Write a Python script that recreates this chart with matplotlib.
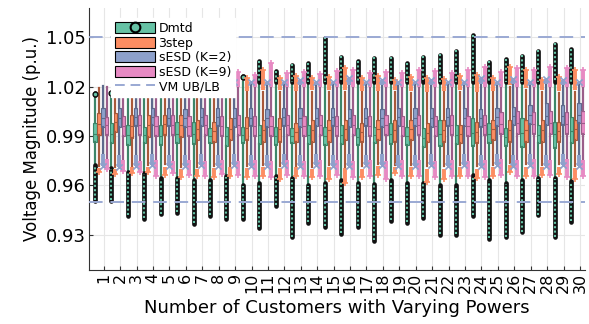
import numpy as np
import matplotlib
matplotlib.use("Agg")
import matplotlib.pyplot as plt
from matplotlib.patches import Patch
from matplotlib.lines import Line2D

# ── data ──────────────────────────────────────────────────────────────────
groups = np.arange(1, 31)
series = ["Dmtd", "3step", "sESD (K=2)", "sESD (K=9)"]
v_upper, v_lower = 1.05, 0.95

# Dmtd
dm_q1 = [0.9866, 0.9855, 0.9845, 0.9855, 0.9845, 0.9855, 0.9850, 0.9855, 0.9840, 0.9855,
         0.9850, 0.9845, 0.9855, 0.9850, 0.9845, 0.9850, 0.9845, 0.9855, 0.9850, 0.9845,
         0.9835, 0.9840, 0.9850, 0.9840, 0.9855, 0.9840, 0.9835, 0.9855, 0.9830, 0.9855]
dm_med = [0.9915, 0.9910, 0.9905, 0.9905, 0.9900, 0.9915, 0.9915, 0.9900, 0.9900, 0.9905,
          0.9905, 0.9900, 0.9900, 0.9905, 0.9900, 0.9905, 0.9895, 0.9905, 0.9910, 0.9900,
          0.9890, 0.9915, 0.9905, 0.9920, 0.9910, 0.9895, 0.9920, 0.9905, 0.9910, 0.9930]
dm_q3 = [0.9977, 0.9977, 0.9967, 0.9957, 0.9967, 0.9987, 0.9987, 0.9947, 0.9957, 0.9957,
         0.9967, 0.9957, 0.9947, 0.9967, 0.9957, 0.9967, 0.9947, 0.9957, 0.9977, 0.9957,
         0.9947, 0.9997, 0.9967, 1.0008, 0.9977, 0.9947, 1.0008, 0.9967, 0.9987, 1.0018]
dm_whi = [1.0140, 1.0150, 1.0220, 1.0220, 1.0220, 1.0220, 1.0220, 1.0220, 1.0215, 1.0230,
          1.0215, 1.0215, 1.0215, 1.0215, 1.0215, 1.0215, 1.0215, 1.0215, 1.0215, 1.0215,
          1.0215, 1.0215, 1.0215, 1.0215, 1.0215, 1.0215, 1.0215, 1.0215, 1.0215, 1.0215]
dm_hi_a = [1.0155, 1.0160, np.nan, np.nan, np.nan, np.nan, np.nan, np.nan, 1.0225, 1.0260,
           1.0225, 1.0225, 1.0225, 1.0225, 1.0225, 1.0225, 1.0225, 1.0225, 1.0225, 1.0225,
           1.0225, 1.0225, 1.0225, 1.0225, 1.0225, 1.0225, 1.0225, 1.0225, 1.0225, 1.0225]
dm_hi_b = [1.0155, 1.0160, np.nan, np.nan, np.nan, np.nan, np.nan, np.nan, 1.0348, 1.0260,
           1.0358, 1.0297, 1.0334, 1.0345, 1.0502, 1.0384, 1.0358, 1.0378, 1.0378, 1.0345,
           1.0384, 1.0398, 1.0422, 1.0515, 1.0355, 1.0370, 1.0390, 1.0422, 1.0466, 1.0430]
dm_lo_a = [0.9717, 0.9700, 0.9677, 0.9670, 0.9640, 0.9640, 0.9630, 0.9630, 0.9650, 0.9596,
           0.9610, 0.9650, 0.9640, 0.9596, 0.9610, 0.9630, 0.9610, 0.9604, 0.9630, 0.9610,
           0.9610, 0.9596, 0.9596, 0.9660, 0.9630, 0.9610, 0.9630, 0.9640, 0.9640, 0.9620]
dm_lo_b = [0.9510, 0.9510, 0.9420, 0.9400, 0.9430, 0.9440, 0.9370, 0.9420, 0.9400, 0.9400,
           0.9350, 0.9480, 0.9290, 0.9378, 0.9353, 0.9313, 0.9353, 0.9270, 0.9390, 0.9380,
           0.9410, 0.9307, 0.9307, 0.9418, 0.9280, 0.9290, 0.9320, 0.9424, 0.9290, 0.9384]

# 3step
st_q1 = [0.9906, 0.9926, 0.9886, 0.9896, 0.9906, 0.9896, 0.9876, 0.9866, 0.9876, 0.9876,
         0.9866, 0.9866, 0.9866, 0.9866, 0.9866, 0.9876, 0.9866, 0.9876, 0.9866, 0.9876,
         0.9866, 0.9866, 0.9855, 0.9860, 0.9876, 0.9866, 0.9866, 0.9866, 0.9866, 0.9876]
st_med = [0.9970, 0.9985, 0.9960, 0.9965, 0.9970, 0.9965, 0.9940, 0.9930, 0.9945, 0.9950,
          0.9935, 0.9940, 0.9925, 0.9935, 0.9935, 0.9940, 0.9925, 0.9940, 0.9935, 0.9940,
          0.9920, 0.9935, 0.9915, 0.9925, 0.9940, 0.9935, 0.9935, 0.9935, 0.9930, 0.9940]
st_q3 = [1.0038, 1.0038, 1.0028, 1.0028, 1.0028, 1.0028, 0.9997, 0.9987, 1.0008, 1.0018,
         0.9997, 1.0008, 0.9977, 0.9997, 0.9997, 0.9997, 0.9977, 0.9997, 0.9997, 0.9997,
         0.9977, 0.9997, 0.9967, 0.9987, 0.9997, 0.9997, 0.9997, 0.9997, 0.9987, 0.9997]
st_whi = [1.0190, 1.0190, 1.0180, 1.0180, 1.0180, 1.0180, 1.0175, 1.0170, 1.0165, 1.0165,
          1.0170, 1.0165, 1.0170, 1.0170, 1.0165, 1.0170, 1.0165, 1.0170, 1.0165, 1.0160,
          1.0160, 1.0165, 1.0170, 1.0160, 1.0165, 1.0200, 1.0180, 1.0170, 1.0160, 1.0170]
st_hi_a = [np.nan, np.nan, np.nan, np.nan, np.nan, np.nan, np.nan, np.nan, 1.0175, 1.0175,
           1.0180, 1.0180, 1.0175, 1.0180, 1.0180, 1.0180, 1.0175, 1.0175, 1.0180, 1.0175,
           1.0170, 1.0175, 1.0180, 1.0170, 1.0175, 1.0210, 1.0190, 1.0180, 1.0175, 1.0180]
st_hi_b = [np.nan, np.nan, np.nan, np.nan, np.nan, np.nan, np.nan, np.nan, 1.0260, 1.0255,
           1.0300, 1.0255, 1.0265, 1.0250, 1.0260, 1.0310, 1.0255, 1.0265, 1.0240, 1.0260,
           1.0255, 1.0245, 1.0265, 1.0270, 1.0255, 1.0320, 1.0300, 1.0240, 1.0260, 1.0300]
st_wlo = [0.9720, 0.9715, 0.9720, 0.9725, 0.9730, 0.9710, 0.9715, 0.9720, 0.9720, 0.9720,
          0.9725, 0.9720, 0.9720, 0.9715, 0.9725, 0.9715, 0.9720, 0.9730, 0.9725, 0.9725,
          0.9720, 0.9720, 0.9725, 0.9720, 0.9725, 0.9735, 0.9730, 0.9725, 0.9730, 0.9720]
st_lo_a = [0.9705, 0.9700, 0.9710, 0.9715, 0.9715, 0.9700, 0.9700, 0.9705, 0.9710, 0.9705,
           0.9710, 0.9705, 0.9710, 0.9700, 0.9710, 0.9707, 0.9700, 0.9720, 0.9710, 0.9715,
           0.9700, 0.9700, 0.9710, 0.9700, 0.9710, 0.9725, 0.9715, 0.9710, 0.9715, 0.9705]
st_lo_b = [0.9680, 0.9670, 0.9675, 0.9680, 0.9665, 0.9650, 0.9660, 0.9650, 0.9655, 0.9650,
           0.9660, 0.9640, 0.9655, 0.9650, 0.9640, 0.9616, 0.9650, 0.9665, 0.9675, 0.9660,
           0.9620, 0.9640, 0.9660, 0.9645, 0.9660, 0.9680, 0.9660, 0.9665, 0.9670, 0.9640]

# sESD (K=2)
k2_q1 = [0.9957, 0.9957, 0.9960, 0.9965, 0.9960, 0.9957, 0.9960, 0.9962, 0.9957, 0.9960,
         0.9957, 0.9962, 0.9957, 0.9960, 0.9962, 0.9957, 0.9960, 0.9957, 0.9962, 0.9960,
         0.9957, 0.9962, 0.9960, 0.9957, 0.9962, 0.9967, 0.9970, 0.9967, 0.9967, 0.9977]
k2_med = [1.0010, 1.0012, 1.0015, 1.0015, 1.0012, 1.0010, 1.0015, 1.0015, 1.0010, 1.0012,
          1.0010, 1.0015, 1.0012, 1.0012, 1.0015, 1.0010, 1.0012, 1.0010, 1.0015, 1.0012,
          1.0010, 1.0015, 1.0012, 1.0010, 1.0015, 1.0020, 1.0025, 1.0022, 1.0022, 1.0030]
k2_q3 = [1.0068, 1.0068, 1.0070, 1.0072, 1.0068, 1.0065, 1.0070, 1.0072, 1.0068, 1.0070,
         1.0065, 1.0072, 1.0068, 1.0068, 1.0072, 1.0065, 1.0068, 1.0065, 1.0072, 1.0068,
         1.0068, 1.0072, 1.0068, 1.0065, 1.0072, 1.0078, 1.0088, 1.0098, 1.0088, 1.0098]
k2_whi = [1.0205, 1.0210, 1.0210, 1.0210, 1.0210, 1.0210, 1.0210, 1.0210, 1.0210, 1.0215,
          1.0210, 1.0215, 1.0210, 1.0210, 1.0215, 1.0210, 1.0215, 1.0210, 1.0210, 1.0215,
          1.0210, 1.0215, 1.0210, 1.0215, 1.0210, 1.0215, 1.0210, 1.0215, 1.0210, 1.0215]
k2_hi_b = [np.nan, np.nan, np.nan, np.nan, np.nan, np.nan, np.nan, np.nan, 1.0225, 1.0230,
           1.0225, 1.0230, 1.0240, 1.0225, 1.0230, 1.0250, 1.0230, 1.0240, 1.0225, 1.0230,
           1.0240, 1.0225, 1.0230, 1.0250, 1.0230, 1.0245, 1.0230, 1.0245, 1.0240, 1.0230]
k2_wlo = [0.9790, 0.9785, 0.9785, 0.9790, 0.9785, 0.9785, 0.9790, 0.9785, 0.9790, 0.9785,
          0.9785, 0.9790, 0.9785, 0.9790, 0.9785, 0.9790, 0.9785, 0.9790, 0.9785, 0.9785,
          0.9790, 0.9785, 0.9790, 0.9785, 0.9790, 0.9785, 0.9790, 0.9785, 0.9790, 0.9785]
k2_lo_b = [0.9720, 0.9715, 0.9720, 0.9725, 0.9720, 0.9720, 0.9725, 0.9720, 0.9725, 0.9720,
           0.9720, 0.9725, 0.9720, 0.9725, 0.9720, 0.9720, 0.9722, 0.9725, 0.9720, 0.9720,
           0.9725, 0.9720, 0.9725, 0.9720, 0.9725, 0.9720, 0.9725, 0.9720, 0.9725, 0.9720]

# sESD (K=9)
k9_q1 = [0.9906, 0.9900, 0.9905, 0.9900, 0.9905, 0.9900, 0.9905, 0.9900, 0.9905, 0.9900,
         0.9900, 0.9905, 0.9900, 0.9905, 0.9900, 0.9905, 0.9900, 0.9905, 0.9900, 0.9905,
         0.9900, 0.9905, 0.9900, 0.9905, 0.9910, 0.9915, 0.9910, 0.9915, 0.9910, 0.9915]
k9_med = [0.9965, 0.9960, 0.9965, 0.9960, 0.9965, 0.9960, 0.9965, 0.9960, 0.9965, 0.9960,
          0.9960, 0.9965, 0.9960, 0.9965, 0.9960, 0.9965, 0.9960, 0.9965, 0.9960, 0.9965,
          0.9960, 0.9965, 0.9960, 0.9965, 0.9975, 0.9980, 0.9975, 0.9980, 0.9975, 0.9980]
k9_q3 = [1.0018, 1.0020, 1.0025, 1.0020, 1.0025, 1.0020, 1.0025, 1.0020, 1.0025, 1.0020,
         1.0020, 1.0025, 1.0020, 1.0025, 1.0020, 1.0025, 1.0020, 1.0025, 1.0020, 1.0025,
         1.0020, 1.0025, 1.0020, 1.0025, 1.0045, 1.0050, 1.0045, 1.0050, 1.0045, 1.0050]
k9_whi = [1.0200, 1.0200, 1.0200, 1.0200, 1.0200, 1.0200, 1.0200, 1.0200, 1.0200, 1.0200,
          1.0200, 1.0200, 1.0200, 1.0200, 1.0200, 1.0200, 1.0200, 1.0200, 1.0200, 1.0200,
          1.0200, 1.0200, 1.0200, 1.0200, 1.0200, 1.0200, 1.0200, 1.0200, 1.0200, 1.0200]
k9_hi_b = [np.nan, np.nan, np.nan, np.nan, np.nan, np.nan, np.nan, np.nan, 1.0290, 1.0270,
           1.0345, 1.0280, 1.0290, 1.0275, 1.0295, 1.0300, 1.0285, 1.0290, 1.0280, 1.0300,
           1.0295, 1.0285, 1.0300, 1.0320, 1.0290, 1.0310, 1.0300, 1.0320, 1.0310, 1.0300]
k9_wlo = [0.9760, 0.9755, 0.9750, 0.9755, 0.9750, 0.9752, 0.9750, 0.9755, 0.9750, 0.9755,
          0.9750, 0.9755, 0.9750, 0.9752, 0.9755, 0.9750, 0.9755, 0.9750, 0.9752, 0.9755,
          0.9750, 0.9755, 0.9750, 0.9752, 0.9760, 0.9755, 0.9760, 0.9755, 0.9760, 0.9755]
k9_lo_b = [0.9700, 0.9690, 0.9680, 0.9660, 0.9675, 0.9665, 0.9660, 0.9670, 0.9665, 0.9660,
           0.9650, 0.9665, 0.9660, 0.9655, 0.9665, 0.9650, 0.9660, 0.9640, 0.9660, 0.9655,
           0.9650, 0.9660, 0.9655, 0.9650, 0.9665, 0.9660, 0.9655, 0.9665, 0.9650, 0.9660]

# ── styling ────────────────────────────────────────────────────────────────
fills = ["#66c2a5", "#fc8d62", "#8da0cb", "#e78ac3"]
darks = ["#3c8568", "#a8593a", "#5d6a8c", "#9b5e8a"]
offsets = [-0.53, -0.29, -0.05, 0.19]
box_w = 0.2

fig = plt.figure(figsize=(5.89, 3.24), dpi=100)
ax = fig.add_axes([0.151, 0.167, 0.842, 0.808])

boxes = [
    (dm_q1, dm_med, dm_q3, [a + 0.0012 for a in dm_lo_a], dm_whi),
    (st_q1, st_med, st_q3, st_wlo, st_whi),
    (k2_q1, k2_med, k2_q3, k2_wlo, k2_whi),
    (k9_q1, k9_med, k9_q3, k9_wlo, k9_whi),
]

for i, (q1, med, q3, wlo, whi) in enumerate(boxes):
    stats = [dict(q1=q1[g], med=med[g], q3=q3[g], whislo=wlo[g], whishi=whi[g], fliers=[])
             for g in range(len(groups))]
    pos = groups + offsets[i]
    ax.bxp(stats, positions=pos, widths=box_w, showcaps=False, patch_artist=True,
           boxprops=dict(facecolor=fills[i], edgecolor=darks[i], lw=0.8),
           whiskerprops=dict(color=darks[i], lw=1.6),
           medianprops=dict(color=darks[i], lw=0.8), zorder=2 + i * 0.1)

    if i == 0:
        # dense Dmtd outlier columns: black-edged green circles
        for a, b in [(dm_lo_a, dm_lo_b), (dm_hi_a, dm_hi_b)]:
            a = np.array(a); b = np.array(b)
            ok = ~np.isnan(a)
            ax.vlines(pos[ok], b[ok] - 0.0005, a[ok] + 0.0005, color="#111111", lw=3.4,
                      capstyle="round", zorder=3)
            ax.vlines(pos[ok], b[ok], a[ok], color=fills[0], lw=1.5,
                      linestyle=(0, (1.0, 1.1)), zorder=3.1)
        single = np.array(dm_hi_a) == np.array(dm_hi_b)
        ax.scatter(pos[single], np.array(dm_hi_a)[single], s=12, c=fills[0],
                   edgecolors="#111111", lw=1.0, zorder=3.2)

# clustered outliers for the other three methods
markers = [None, "+", "x", "+"]
lo_sets = [None, (st_lo_a, st_lo_b), (k2_wlo, k2_lo_b), (k9_wlo, k9_lo_b)]
hi_sets = [None, (st_hi_a, st_hi_b), (k2_whi, k2_hi_b), (k9_whi, k9_hi_b)]
for i in range(1, 4):
    pos = groups + offsets[i]
    for a, b in [lo_sets[i], hi_sets[i]]:
        a = np.array(a); b = np.array(b)
        ok = ~np.isnan(a) & ~np.isnan(b)
        ax.vlines(pos[ok], np.minimum(a[ok], b[ok]), np.maximum(a[ok], b[ok]),
                  color=fills[i], lw=2.8, zorder=3.5 + i * 0.1)
        ax.scatter(pos[ok], b[ok], marker=markers[i], s=20, c=fills[i], lw=1.2,
                   zorder=3.6 + i * 0.1)

ax.axhline(v_upper, color="#9aa9d3", lw=1.4, dashes=(7, 4), zorder=5)
ax.axhline(v_lower, color="#9aa9d3", lw=1.4, dashes=(7, 4), zorder=5)

# ── axes ───────────────────────────────────────────────────────────────────
ax.set_xlim(0.1, 30.3)
ax.set_ylim(0.9088, 1.0676)
ax.set_xticks(groups)
ax.set_xticklabels([str(g) for g in groups], rotation=90, fontsize=11.5)
ax.set_yticks([0.93, 0.96, 0.99, 1.02, 1.05])
ax.set_yticklabels(["0.93", "0.96", "0.99", "1.02", "1.05"], fontsize=13)
ax.tick_params(direction="in", length=3, width=0.8, colors="#333333", pad=2)
ax.tick_params(axis="x", labelcolor="black")
ax.tick_params(axis="y", labelcolor="black")
ax.grid(True, color="#e6e6e6", lw=0.8, zorder=0)
ax.set_axisbelow(True)
for s in ["top", "right"]:
    ax.spines[s].set_visible(False)
for s in ["left", "bottom"]:
    ax.spines[s].set_color("#333333")
ax.set_xlabel("Number of Customers with Varying Powers", fontsize=13, labelpad=4)
ax.set_ylabel("Voltage Magnitude (p.u.)", fontsize=12, labelpad=4)

handles = [
    (Patch(facecolor=fills[0], edgecolor="black", lw=0.8),
     Line2D([], [], marker="o", color="none", markerfacecolor=fills[0],
            markeredgecolor="black", markersize=7, markeredgewidth=1.5)),
    Patch(facecolor=fills[1], edgecolor="black", lw=0.8),
    Patch(facecolor=fills[2], edgecolor="black", lw=0.8),
    Patch(facecolor=fills[3], edgecolor="black", lw=0.8),
    Line2D([], [], color="#9aa9d3", lw=1.4, dashes=(5, 3)),
]
labels = series + ["VM UB/LB"]
leg = ax.legend(handles, labels, loc="upper left", bbox_to_anchor=(0.032, 0.985),
                fontsize=9, frameon=True, facecolor="white", edgecolor="white",
                framealpha=1, fancybox=False, handlelength=3.2, handleheight=0.95,
                labelspacing=0.12, borderpad=0.3, handletextpad=0.3)
leg.set_zorder(10)

fig.savefig("out.png", dpi=100)
